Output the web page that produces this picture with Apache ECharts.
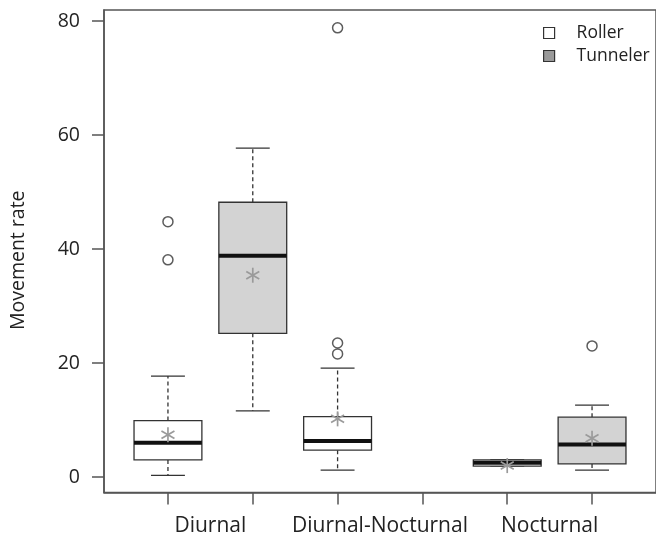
<!DOCTYPE html>
<html>
<head>
<meta charset="utf-8">
<script src="https://cdn.jsdelivr.net/npm/echarts@6/dist/echarts.min.js"></script>
<style>html,body{margin:0;padding:0;background:#fff;}#c{width:656px;height:537px;}</style>
</head>
<body>
<div id="c"></div>
<script>
// ---- data ----
const categories = ['Diurnal', 'Diurnal-Nocturnal', 'Nocturnal'];
const groups = ['Roller', 'Tunneler'];
// [min, Q1, median, Q3, max]
const rollerStats = [[0.3, 3.0, 6.0, 9.9, 17.7], [1.2, 4.7, 6.3, 10.6, 19.1], [1.9, 1.9, 2.5, 3.0, 3.0]];
const tunnelerStats = [[11.6, 25.2, 38.8, 48.2, 57.7], null, [1.2, 2.3, 5.7, 10.5, 12.6]];
const rollerMeans = [7.4, 10.2, 2.0];
const tunnelerMeans = [35.4, null, 6.8];
const rollerOutliers = [[44.8, 38.1], [78.8, 23.5, 21.6], []];
const tunnelerOutliers = [[], [], [23.0]];
const yTicks = [0, 20, 40, 60, 80];

// ---- build ----
const FONT = 'Open Sans';
const posOf = (ci, gi) => 2 * ci + gi + 1;
function boxData(stats, gi) {
  const out = [];
  stats.forEach((s, ci) => { if (s) out.push([posOf(ci, gi)].concat(s)); });
  return out;
}
function meanData(means, gi) {
  const out = [];
  means.forEach((m, ci) => { if (m != null) out.push([posOf(ci, gi), m]); });
  return out;
}
function outData(outs, gi) {
  const out = [];
  outs.forEach((arr, ci) => arr.forEach(v => out.push([posOf(ci, gi), v])));
  return out;
}
function makeBox(fill) {
  return function (params, api) {
    const x = api.value(0);
    const mn = api.value(1), q1 = api.value(2), md = api.value(3), q3 = api.value(4), mx = api.value(5);
    const hw = 0.4, cw = 0.2;
    const tl = api.coord([x - hw, q3]);
    const br = api.coord([x + hw, q1]);
    const c = (v) => api.coord([x, v]);
    const lineStyle = { stroke: '#333', lineWidth: 1.3, fill: null };
    const dash = { stroke: '#333', lineWidth: 1.3, lineDash: [4, 3], fill: null };
    const children = [];
    children.push({ type: 'line', shape: { x1: c(q3)[0], y1: c(q3)[1], x2: c(mx)[0], y2: c(mx)[1] }, style: dash });
    children.push({ type: 'line', shape: { x1: c(q1)[0], y1: c(q1)[1], x2: c(mn)[0], y2: c(mn)[1] }, style: dash });
    const capT1 = api.coord([x - cw, mx]), capT2 = api.coord([x + cw, mx]);
    const capB1 = api.coord([x - cw, mn]), capB2 = api.coord([x + cw, mn]);
    children.push({ type: 'line', shape: { x1: capT1[0], y1: capT1[1], x2: capT2[0], y2: capT2[1] }, style: lineStyle });
    children.push({ type: 'line', shape: { x1: capB1[0], y1: capB1[1], x2: capB2[0], y2: capB2[1] }, style: lineStyle });
    children.push({ type: 'rect', shape: { x: tl[0], y: tl[1], width: br[0] - tl[0], height: br[1] - tl[1] }, style: { fill: fill, stroke: '#333', lineWidth: 1.3 } });
    const m1 = api.coord([x - hw, md]), m2 = api.coord([x + hw, md]);
    children.push({ type: 'line', shape: { x1: m1[0], y1: m1[1], x2: m2[0], y2: m2[1] }, style: { stroke: '#111', lineWidth: 4 } });
    return { type: 'group', children: children };
  };
}
function renderMean(params, api) {
  const p = api.coord([api.value(0), api.value(1)]);
  const r = 7.5;
  const st = { stroke: '#9a9a9a', lineWidth: 1.7 };
  const a = Math.PI / 6;
  const dx = r * Math.cos(a), dy = r * Math.sin(a);
  return {
    type: 'group', children: [
      { type: 'line', shape: { x1: p[0], y1: p[1] - r, x2: p[0], y2: p[1] + r }, style: st },
      { type: 'line', shape: { x1: p[0] - dx, y1: p[1] - dy, x2: p[0] + dx, y2: p[1] + dy }, style: st },
      { type: 'line', shape: { x1: p[0] - dx, y1: p[1] + dy, x2: p[0] + dx, y2: p[1] - dy }, style: st }
    ]
  };
}
const labelPos = categories.map((c, i) => 2 * i + 1.5);
const tickPos = [];
categories.forEach((c, ci) => groups.forEach((g, gi) => tickPos.push(posOf(ci, gi))));

const chart = echarts.init(document.getElementById('c'), null, { renderer: 'canvas' });
chart.setOption({
  animation: false,
  backgroundColor: '#fff',
  textStyle: { fontFamily: FONT },
  grid: { left: 102, top: 10, width: 561, height: 482.5, show: true, borderColor: '#555', borderWidth: 1.5, backgroundColor: 'transparent' },
  legend: {
    left: 538, top: 19, orient: 'vertical', itemWidth: 11, itemHeight: 11, itemGap: 5,
    textStyle: { fontFamily: FONT, fontSize: 17.5, color: '#222', padding: [0, 0, 0, 17] },
    data: [
      { name: groups[0], icon: 'rect', itemStyle: { color: '#fff', borderColor: '#333', borderWidth: 1.2 } },
      { name: groups[1], icon: 'rect', itemStyle: { color: '#9a9a9a', borderColor: '#333', borderWidth: 1.2 } }
    ]
  },
  xAxis: {
    type: 'value', min: 0.246, max: 6.754,
    splitLine: { show: false },
    axisLine: { show: true, onZero: false, lineStyle: { color: '#555', width: 1.5 } },
    axisTick: { show: true, length: 12, lineStyle: { color: '#555', width: 1.5 }, customValues: tickPos },
    axisLabel: { customValues: labelPos, fontSize: 21, color: '#222', margin: 23, fontFamily: FONT,
      formatter: (v) => categories[Math.round((v - 1.5) / 2)] }
  },
  yAxis: {
    type: 'value', min: -2.72, max: 81.93,
    name: 'Movement rate', nameLocation: 'middle', nameRotate: 90, nameGap: 76,
    nameTextStyle: { fontSize: 19.5, color: '#222', fontFamily: FONT, padding: [0, 18, 0, 0] },
    splitLine: { show: false },
    axisLine: { show: true, onZero: false, lineStyle: { color: '#555', width: 1.5 } },
    axisTick: { show: true, length: 12, lineStyle: { color: '#555', width: 1.5 }, customValues: yTicks },
    axisLabel: { customValues: yTicks, fontSize: 19.5, color: '#222', margin: 24, fontFamily: FONT }
  },
  series: [
    { name: groups[0], type: 'custom', renderItem: makeBox('#ffffff'), data: boxData(rollerStats, 0), encode: { x: 0, y: [1, 2, 3, 4, 5] }, z: 2 },
    { name: groups[1], type: 'custom', renderItem: makeBox('#d3d3d3'), data: boxData(tunnelerStats, 1), encode: { x: 0, y: [1, 2, 3, 4, 5] }, z: 2 },
    { name: 'Roller outliers', type: 'scatter', symbol: 'circle', symbolSize: 10, data: outData(rollerOutliers, 0), itemStyle: { color: '#fff', borderColor: '#333', borderWidth: 1.5 }, z: 3 },
    { name: 'Tunneler outliers', type: 'scatter', symbol: 'circle', symbolSize: 10, data: outData(tunnelerOutliers, 1), itemStyle: { color: '#fff', borderColor: '#333', borderWidth: 1.5 }, z: 3 },
    { name: 'Roller mean', type: 'custom', renderItem: renderMean, data: meanData(rollerMeans, 0), z: 4 },
    { name: 'Tunneler mean', type: 'custom', renderItem: renderMean, data: meanData(tunnelerMeans, 1), z: 4 }
  ]
});
</script>
</body>
</html>
